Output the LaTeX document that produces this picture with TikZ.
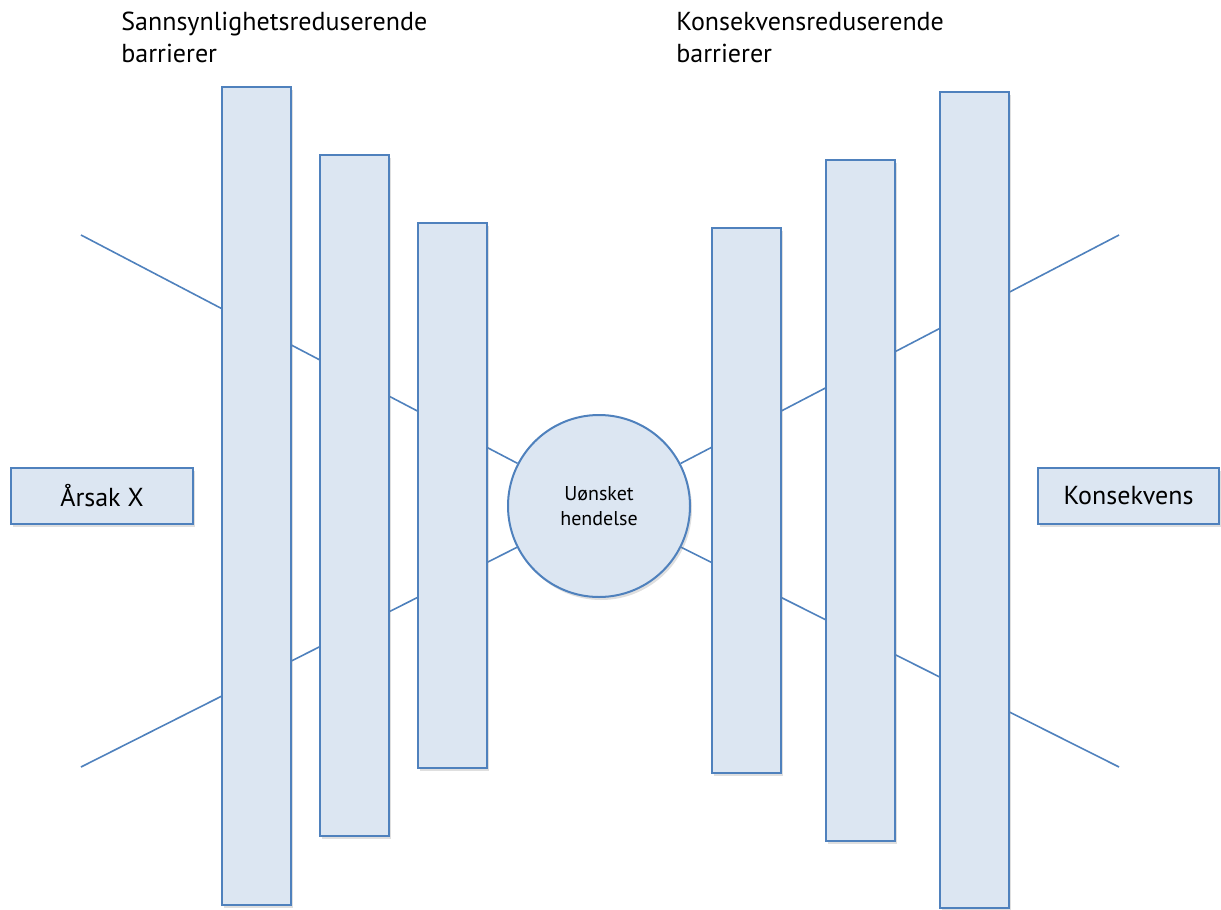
\documentclass[tikz,border=0pt]{standalone}
\usepackage{fontspec}
\setmainfont{PT Sans}
\usepackage{tikz}
\usetikzlibrary{positioning, shadows}
\definecolor{barfill}{HTML}{DCE6F2}
\definecolor{bardraw}{HTML}{4F81BD}
\pgfdeclarelayer{background}
\pgfsetlayers{background,main}
\tikzset{
    barrier/.style={rectangle, draw=bardraw, line width=1pt, fill=barfill, inner sep=0pt, minimum width=34.5pt,
        drop shadow={opacity=0.25, shadow xshift=1pt, shadow yshift=-1.5pt}},
    endbox/.style={rectangle, draw=bardraw, line width=1pt, fill=barfill, inner sep=0pt, minimum width=91pt, minimum height=28pt,
        font=\fontsize{13}{15}\selectfont, drop shadow={opacity=0.25, shadow xshift=1pt, shadow yshift=-1.5pt}},
    event/.style={circle, draw=bardraw, line width=1pt, fill=barfill, inner sep=0pt, minimum size=91pt, align=center,
        font=\fontsize{10}{12.5}\selectfont, drop shadow={opacity=0.25, shadow xshift=1pt, shadow yshift=-1.5pt}},
    title/.style={anchor=base west, align=left, inner sep=0pt, font=\fontsize{13}{16}\selectfont},
    path line/.style={draw=bardraw, line width=0.8pt}
}

\begin{document}
\begin{tikzpicture}[x=0.5pt, y=-0.5pt]
    \useasboundingbox (0,0) rectangle (1221,910);

    % Titles
    \node[title] (ptitle) at (121,62) {Sannsynlighetsreduserende\\barrierer};
    \node[title] (ctitle) at (676,62) {Konsekvensreduserende\\barrierer};

    % Cause, event and consequence
    \node[endbox] (cause) at (102,496) {Årsak X};
    \node[endbox, minimum width=90.5pt] (cons) at (1128.5,496) {Konsekvens};
    \node[event] (hazard) at (599,506) {Uønsket\\hendelse};

    % Barriers
    \node[barrier, minimum height=409pt] (p1) at (256.5,496) {};
    \node[barrier, minimum height=340.5pt] (p2) at (354.5,495.5) {};
    \node[barrier, minimum height=272.5pt] (p3) at (452.5,495.5) {};
    \node[barrier, minimum height=272.5pt] (c1) at (746.5,500.5) {};
    \node[barrier, minimum height=340.5pt] (c2) at (860.5,500.5) {};
    \node[barrier, minimum height=408pt] (c3) at (974.5,500) {};

    % Threat and consequence lines
    \coordinate (tin) at (81,235);
    \coordinate (bin) at (81,767);
    \coordinate (tout) at (1119,235);
    \coordinate (bout) at (1119,767);
    \begin{pgfonlayer}{background}
        \draw[path line] (tin) -- (hazard);
        \draw[path line] (bin) -- (hazard);
        \draw[path line] (hazard) -- (tout);
        \draw[path line] (hazard) -- (bout);
    \end{pgfonlayer}
\end{tikzpicture}
\end{document}
